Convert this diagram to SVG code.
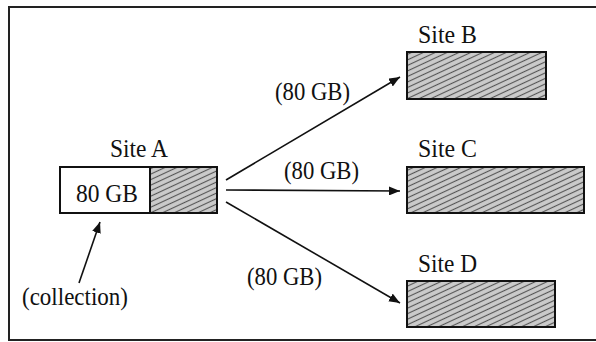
<svg xmlns="http://www.w3.org/2000/svg" width="596" height="342" viewBox="0 0 596 342">
<style>
text{font-family:'Times New Roman',Times,'Liberation Serif',Tinos,'DejaVu Serif','Noto Serif',FreeSerif,serif;font-size:26px;fill:#111}
.box{stroke:#111;stroke-width:2}
.con{stroke:#111;stroke-width:1.6;fill:none}
</style>
<defs>
<pattern id="hatch" width="7" height="5" patternUnits="userSpaceOnUse" patternTransform="rotate(-25)">
<rect width="7" height="5" fill="#f4f4f4"/>
<line x1="0" y1="1.5" x2="7" y2="1.5" stroke="#555" stroke-width="1.6"/>
<line x1="0" y1="4" x2="7" y2="4" stroke="#999" stroke-width="0.9"/>
</pattern>
<marker id="ah" viewBox="0 0 11 9" refX="11" refY="4.5" markerWidth="11" markerHeight="9" markerUnits="userSpaceOnUse" orient="auto">
<path d="M0,0 L11,4.5 L0,9 Z" fill="#111"/>
</marker>
</defs>
<rect x="9" y="7" width="600" height="333" fill="#fff" stroke="#222" stroke-width="2"/>
<g id="siteA">
<text x="110" y="157" textLength="58" lengthAdjust="spacingAndGlyphs">Site A</text>
<rect class="box" x="60" y="167" width="90" height="46" fill="#fff"/>
<rect class="box" x="150" y="167" width="67" height="46" fill="url(#hatch)"/>
<text x="76" y="202" textLength="62" lengthAdjust="spacingAndGlyphs">80 GB</text>
</g>
<g id="siteB">
<text x="418" y="43" textLength="59" lengthAdjust="spacingAndGlyphs">Site B</text>
<rect class="box" x="407" y="52" width="139" height="47" fill="url(#hatch)"/>
</g>
<g id="siteC">
<text x="418" y="157" textLength="59" lengthAdjust="spacingAndGlyphs">Site C</text>
<rect class="box" x="407" y="167" width="177" height="46" fill="url(#hatch)"/>
</g>
<g id="siteD">
<text x="418" y="272" textLength="59" lengthAdjust="spacingAndGlyphs">Site D</text>
<rect class="box" x="407" y="281" width="148" height="46" fill="url(#hatch)"/>
</g>
<g id="collection">
<text x="22" y="305" textLength="106" lengthAdjust="spacingAndGlyphs">(collection)</text>
</g>
<g id="connectors">
<line class="con" x1="226" y1="180" x2="400" y2="77" marker-end="url(#ah)"/>
<line class="con" x1="226" y1="190" x2="400" y2="191" marker-end="url(#ah)"/>
<line class="con" x1="226" y1="202" x2="400" y2="303" marker-end="url(#ah)"/>
<line class="con" x1="79" y1="283" x2="100" y2="222" marker-end="url(#ah)"/>
<text x="275" y="100" textLength="75" lengthAdjust="spacingAndGlyphs">(80 GB)</text>
<text x="284" y="179" textLength="75" lengthAdjust="spacingAndGlyphs">(80 GB)</text>
<text x="247" y="285" textLength="75" lengthAdjust="spacingAndGlyphs">(80 GB)</text>
</g>
</svg>
